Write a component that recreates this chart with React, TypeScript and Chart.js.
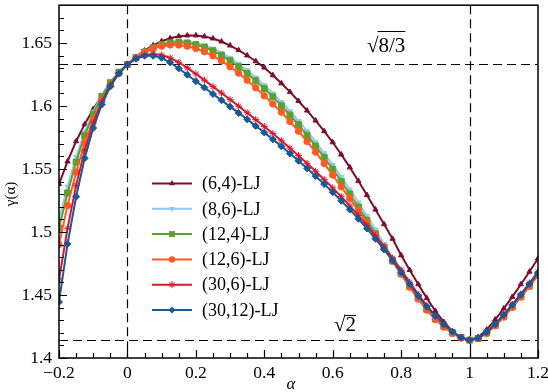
import React, { useEffect, useRef } from "react";
import { Chart, registerables } from "chart.js";

Chart.register(...registerables);

const ALPHA = [
  -0.2, -0.175, -0.15, -0.125, -0.1, -0.075, -0.05, -0.025, 0,
  0.025, 0.05, 0.075, 0.1, 0.125, 0.15, 0.175, 0.2, 0.225, 0.25,
  0.275, 0.3, 0.325, 0.35, 0.375, 0.4, 0.425, 0.45, 0.475, 0.5,
  0.525, 0.55, 0.575, 0.6, 0.625, 0.65, 0.675, 0.7, 0.725, 0.75,
  0.775, 0.8, 0.825, 0.85, 0.875, 0.9, 0.925, 0.95, 0.975, 1.0,
  1.025, 1.05, 1.075, 1.1, 1.125, 1.15, 1.175, 1.2,
];

const LJ_6_4 = [
  1.538, 1.556, 1.572, 1.5855, 1.5975, 1.608, 1.6175, 1.6257, 1.633,
  1.639, 1.644, 1.6481, 1.6514, 1.6538, 1.6553, 1.656, 1.656, 1.6552, 1.6536,
  1.6512, 1.648, 1.6443, 1.6401, 1.6355, 1.6305, 1.6244, 1.618, 1.6112, 1.604,
  1.5964, 1.5884, 1.58, 1.5712, 1.5615, 1.5513, 1.5405, 1.5293, 1.5178, 1.5062,
  1.4946, 1.4815, 1.4698, 1.4585, 1.4475, 1.4373, 1.4285, 1.4212, 1.4162, 1.4142,
  1.4165, 1.4225, 1.4305, 1.4393, 1.4485, 1.4585, 1.4685, 1.479,
];

const LJ_8_6 = [
  1.51, 1.536, 1.5595, 1.5795, 1.5955, 1.6088, 1.6193, 1.6272, 1.633,
  1.6386, 1.6432, 1.6468, 1.6494, 1.6509, 1.6515, 1.6512, 1.6501, 1.6482, 1.6456,
  1.6422, 1.6382, 1.6335, 1.6283, 1.6226, 1.6165, 1.61, 1.6031, 1.5958, 1.5881,
  1.58, 1.5715, 1.5626, 1.5533, 1.5437, 1.5337, 1.5234, 1.5128, 1.502, 1.4905,
  1.479, 1.468, 1.4572, 1.4478, 1.439, 1.4315, 1.4255, 1.4205, 1.4166, 1.4142,
  1.4156, 1.42, 1.4261, 1.4332, 1.441, 1.4492, 1.4578, 1.4665,
];

const LJ_12_4 = [
  1.503, 1.531, 1.5555, 1.5765, 1.5935, 1.6075, 1.6185, 1.6268, 1.633,
  1.6384, 1.6428, 1.6462, 1.6486, 1.65, 1.6505, 1.65, 1.6487, 1.6466, 1.6438,
  1.6402, 1.636, 1.6312, 1.6259, 1.6201, 1.6139, 1.6073, 1.6003, 1.5929, 1.5851,
  1.5769, 1.5683, 1.5593, 1.5499, 1.5402, 1.5302, 1.5199, 1.5094, 1.4987, 1.4879,
  1.477, 1.467, 1.4567, 1.4473, 1.4385, 1.431, 1.425, 1.42, 1.4163, 1.4142,
  1.4155, 1.4198, 1.4258, 1.4328, 1.4405, 1.4487, 1.4572, 1.466,
];

const LJ_12_6 = [
  1.49, 1.521, 1.5475, 1.5705, 1.589, 1.6043, 1.6165, 1.6258, 1.633,
  1.6385, 1.6426, 1.6456, 1.6475, 1.6484, 1.6484, 1.6475, 1.6457, 1.6431, 1.6398,
  1.6358, 1.6312, 1.6261, 1.6205, 1.6145, 1.6081, 1.6016, 1.5951, 1.5877, 1.58,
  1.5719, 1.5634, 1.5544, 1.5452, 1.5358, 1.5265, 1.5171, 1.5073, 1.4973, 1.4871,
  1.4768, 1.4665, 1.4562, 1.4468, 1.438, 1.4305, 1.4245, 1.4195, 1.4158, 1.4142,
  1.4154, 1.4196, 1.4255, 1.4325, 1.4402, 1.4484, 1.4569, 1.4656,
];

const LJ_30_6 = [
  1.462, 1.503, 1.537, 1.5645, 1.5865, 1.6035, 1.6167, 1.6263, 1.633,
  1.6378, 1.6405, 1.6413, 1.6405, 1.6382, 1.6347, 1.6303, 1.6255, 1.6205, 1.6154,
  1.6103, 1.6051, 1.5999, 1.5946, 1.5892, 1.5837, 1.5781, 1.5724, 1.5666, 1.5606,
  1.5545, 1.5482, 1.5417, 1.535, 1.528, 1.5207, 1.5131, 1.5052, 1.4969, 1.4883,
  1.4793, 1.4699, 1.4602, 1.4505, 1.4415, 1.4337, 1.427, 1.421, 1.4163, 1.4142,
  1.4159, 1.4207, 1.4271, 1.4346, 1.4425, 1.4508, 1.4595, 1.4683,
];

const LJ_30_12 = [
  1.4445, 1.4905, 1.528, 1.5585, 1.5825, 1.6012, 1.6155, 1.6258, 1.633,
  1.6375, 1.6398, 1.6398, 1.6382, 1.6345, 1.6298, 1.6248, 1.6197, 1.6146, 1.6095,
  1.6045, 1.5995, 1.5945, 1.5894, 1.5842, 1.5789, 1.5735, 1.568, 1.5623, 1.5565,
  1.5505, 1.5443, 1.538, 1.5315, 1.5248, 1.5178, 1.5105, 1.5028, 1.4946, 1.4862,
  1.4773, 1.468, 1.4585, 1.4492, 1.4408, 1.4334, 1.4268, 1.4208, 1.4162, 1.4142,
  1.4158, 1.4205, 1.4268, 1.4342, 1.442, 1.4502, 1.4588, 1.4675,
];

const SERIES_LABELS = ["(6,4)-LJ", "(8,6)-LJ", "(12,4)-LJ", "(12,6)-LJ", "(30,6)-LJ", "(30,12)-LJ"];
const SERIES_VALUES = [LJ_6_4, LJ_8_6, LJ_12_4, LJ_12_6, LJ_30_6, LJ_30_12];
const SERIES_COLORS = ["#7d0c2f", "#8ccaf4", "#5ca02e", "#ff5a22", "#d9162b", "#1c5797"];
const SERIES_POINTS = ["triangle", "triangle", "rect", "circle", "star", "rectRot"];
const SERIES_ROT = [0, 180, 0, 0, 0, 0];
const SERIES_RADIUS = [3, 3, 4.2, 3.2, 3.5, 3.5];

const X_TICKS = [-0.2, 0, 0.2, 0.4, 0.6, 0.8, 1, 1.2];
const X_MINOR = [-0.15, -0.1, -0.05, 0.05, 0.1, 0.15, 0.25, 0.3, 0.35, 0.45, 0.5, 0.55, 0.65, 0.7, 0.75, 0.85, 0.9, 0.95, 1.05, 1.1, 1.15];
const Y_TICKS = [1.4, 1.45, 1.5, 1.55, 1.6, 1.65];
const Y_MINOR = [1.41, 1.42, 1.43, 1.44, 1.46, 1.47, 1.48, 1.49, 1.51, 1.52, 1.53, 1.54, 1.56, 1.57, 1.58, 1.59, 1.61, 1.62, 1.63, 1.64, 1.66, 1.67];
const REF_Y = [Math.sqrt(8 / 3), Math.SQRT2];
const REF_X = [0, 1];

const SERIF = '"Liberation Serif", "Times New Roman", serif';

function drawMarker(ctx: CanvasRenderingContext2D, style: string, x: number, y: number, r: number, rot: number, color: string) {
  ctx.save();
  ctx.fillStyle = color;
  ctx.strokeStyle = color;
  ctx.lineWidth = 1;
  ctx.translate(x, y);
  ctx.rotate((rot * Math.PI) / 180);
  ctx.beginPath();
  if (style === "triangle") {
    ctx.moveTo(0, -r * 1.15);
    ctx.lineTo(r, r * 0.6);
    ctx.lineTo(-r, r * 0.6);
    ctx.closePath();
    ctx.fill();
  } else if (style === "rect") {
    const s = r * Math.SQRT1_2;
    ctx.rect(-s, -s, 2 * s, 2 * s);
    ctx.fill();
  } else if (style === "circle") {
    ctx.arc(0, 0, r, 0, Math.PI * 2);
    ctx.fill();
  } else if (style === "rectRot") {
    ctx.moveTo(0, -r);
    ctx.lineTo(r, 0);
    ctx.lineTo(0, r);
    ctx.lineTo(-r, 0);
    ctx.closePath();
    ctx.fill();
  } else if (style === "star") {
    for (let k = 0; k < 4; k++) {
      const a = (k * Math.PI) / 4;
      ctx.moveTo(-Math.cos(a) * r, -Math.sin(a) * r);
      ctx.lineTo(Math.cos(a) * r, Math.sin(a) * r);
    }
    ctx.stroke();
  }
  ctx.restore();
}

const decorPlugin = {
  id: "decor",
  beforeDatasetsDraw(chart: any) {
    const { ctx, chartArea, scales } = chart;
    const xs = scales.x;
    const ys = scales.y;
    ctx.save();
    ctx.strokeStyle = "#000";
    ctx.lineWidth = 1.2;
    ctx.setLineDash([9, 5]);
    REF_Y.forEach((v) => {
      const py = Math.round(ys.getPixelForValue(v)) + 0.5;
      ctx.beginPath();
      ctx.moveTo(chartArea.left, py);
      ctx.lineTo(chartArea.right, py);
      ctx.stroke();
    });
    REF_X.forEach((v) => {
      const px = Math.round(xs.getPixelForValue(v)) + 0.5;
      ctx.beginPath();
      ctx.moveTo(px, chartArea.top);
      ctx.lineTo(px, chartArea.bottom);
      ctx.stroke();
    });
    ctx.restore();
  },
  afterDatasetsDraw(chart: any) {
    const { ctx, chartArea, scales } = chart;
    const xs = scales.x;
    const ys = scales.y;
    const { left, right, top, bottom } = chartArea;
    ctx.save();
    ctx.strokeStyle = "#000";
    ctx.lineWidth = 1.5;
    ctx.strokeRect(left, top, right - left, bottom - top);
    ctx.lineWidth = 1.2;
    ctx.beginPath();
    X_TICKS.forEach((v) => {
      const px = Math.round(xs.getPixelForValue(v)) + 0.5;
      ctx.moveTo(px, bottom);
      ctx.lineTo(px, bottom - 8);
    });
    X_MINOR.forEach((v) => {
      const px = Math.round(xs.getPixelForValue(v)) + 0.5;
      ctx.moveTo(px, bottom);
      ctx.lineTo(px, bottom - 5);
    });
    Y_TICKS.forEach((v) => {
      const py = Math.round(ys.getPixelForValue(v)) + 0.5;
      ctx.moveTo(left, py);
      ctx.lineTo(left + 8, py);
    });
    Y_MINOR.forEach((v) => {
      const py = Math.round(ys.getPixelForValue(v)) + 0.5;
      ctx.moveTo(left, py);
      ctx.lineTo(left + 5, py);
    });
    ctx.stroke();

    ctx.fillStyle = "#000";
    ctx.font = `21px ${SERIF}`;
    ctx.textBaseline = "alphabetic";
    ctx.textAlign = "left";
    const drawRoot = (x: number, baseY: number, body: string, barY: number) => {
      const wr = ctx.measureText("\u221A").width;
      ctx.fillText("\u221A", x, baseY);
      ctx.fillText(body, x + wr, baseY);
      const wb = ctx.measureText(body).width;
      ctx.beginPath();
      ctx.lineWidth = 1;
      ctx.moveTo(x + wr - 1, barY);
      ctx.lineTo(x + wr + wb, barY);
      ctx.stroke();
    };
    drawRoot(367, 52, "8/3", 31.5);
    drawRoot(334, 331, "2", 315.5);

    ctx.font = `18px ${SERIF}`;
    ctx.textBaseline = "middle";
    SERIES_LABELS.forEach((lab, i) => {
      const y = 183.5 + i * 25.3;
      ctx.strokeStyle = SERIES_COLORS[i];
      ctx.lineWidth = 2;
      ctx.beginPath();
      ctx.moveTo(152, y);
      ctx.lineTo(192, y);
      ctx.stroke();
      drawMarker(ctx, SERIES_POINTS[i], 172, y, SERIES_RADIUS[i], SERIES_ROT[i], SERIES_COLORS[i]);
      ctx.fillStyle = "#000";
      ctx.fillText(lab, 202, y + 1);
    });

    ctx.font = `italic 17px ${SERIF}`;
    ctx.textAlign = "center";
    ctx.textBaseline = "middle";
    ctx.fillText("\u03B1", 291, 385);
    ctx.save();
    ctx.translate(11, 194);
    ctx.rotate(-Math.PI / 2);
    ctx.font = `15px ${SERIF}`;
    ctx.fillText("\u03B3(\u03B1)", 0, 0);
    ctx.restore();
    ctx.restore();
  },
};

export default function App() {
  const ref = useRef<HTMLCanvasElement | null>(null);
  useEffect(() => {
    document.body.style.margin = "0";
    const canvas = ref.current;
    if (!canvas) return;
    const datasets = SERIES_VALUES.map((vals, i) => ({
      label: SERIES_LABELS[i],
      data: ALPHA.map((a, j) => ({ x: a, y: vals[j] })),
      borderColor: SERIES_COLORS[i],
      backgroundColor: SERIES_COLORS[i],
      borderWidth: 2,
      pointStyle: SERIES_POINTS[i] as any,
      pointRadius: SERIES_RADIUS[i],
      pointRotation: SERIES_ROT[i],
      pointBorderWidth: 1,
      tension: 0,
      order: SERIES_VALUES.length - 1 - i,
    }));
    const chart = new Chart(canvas, {
      type: "line",
      data: { datasets },
      options: {
        animation: false,
        responsive: false,
        devicePixelRatio: 1,
        layout: { padding: { top: 1, right: 10, left: 0, bottom: 0 } },
        plugins: { legend: { display: false }, tooltip: { enabled: false } },
        scales: {
          x: {
            type: "linear",
            min: -0.2,
            max: 1.2,
            afterBuildTicks: (s: any) => {
              s.ticks = X_TICKS.map((v) => ({ value: v }));
            },
            afterFit: (s: any) => {
              s.height = 34;
              s.paddingLeft = 0;
              s.paddingRight = 0;
            },
            grid: { display: false, drawTicks: false },
            border: { display: false },
            ticks: {
              padding: 5,
              color: "#000",
              maxRotation: 0,
              autoSkip: false,
              font: { family: SERIF, size: 17.5 },
              callback: (v: any) => {
                const n = Number(v);
                const s = String(Math.round(n * 10) / 10);
                return n < 0 ? "\u2212" + s.slice(1) : s;
              },
            },
          },
          y: {
            type: "linear",
            min: 1.4,
            max: 1.68,
            afterBuildTicks: (s: any) => {
              s.ticks = Y_TICKS.map((v) => ({ value: v }));
            },
            afterFit: (s: any) => {
              s.width = 59;
              s.paddingTop = 0;
              s.paddingBottom = 0;
            },
            grid: { display: false, drawTicks: false },
            border: { display: false },
            ticks: {
              padding: 7,
              color: "#000",
              autoSkip: false,
              font: { family: SERIF, size: 17.5 },
              callback: (v: any) => String(Math.round(Number(v) * 100) / 100),
            },
          },
        },
      },
      plugins: [decorPlugin],
    });
    return () => chart.destroy();
  }, []);
  return (
    <div style={{ position: "fixed", left: 0, top: 0, width: 548, height: 392 }}>
      <canvas ref={ref} width={548} height={392} style={{ display: "block" }} />
    </div>
  );
}
